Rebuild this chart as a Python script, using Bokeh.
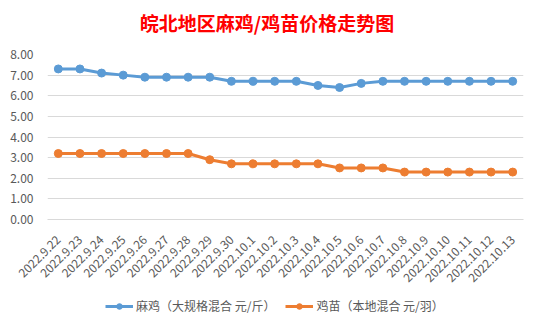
from bokeh.plotting import figure
from bokeh.models import (FactorRange, Range1d, FixedTicker, NumeralTickFormatter,
                          Legend, LegendItem, Div)
from bokeh.layouts import column
from bokeh.embed import file_html
from bokeh.resources import INLINE
import math

dates = ["2022.9.22", "2022.9.23", "2022.9.24", "2022.9.25", "2022.9.26", "2022.9.27",
         "2022.9.28", "2022.9.29", "2022.9.30", "2022.10.1", "2022.10.2", "2022.10.3",
         "2022.10.4", "2022.10.5", "2022.10.6", "2022.10.7", "2022.10.8", "2022.10.9",
         "2022.10.10", "2022.10.11", "2022.10.12", "2022.10.13"]
maji = [7.3, 7.3, 7.1, 7.0, 6.9, 6.9, 6.9, 6.9, 6.7, 6.7, 6.7, 6.7, 6.5, 6.4, 6.6,
        6.7, 6.7, 6.7, 6.7, 6.7, 6.7, 6.7]
jimiao = [3.2, 3.2, 3.2, 3.2, 3.2, 3.2, 3.2, 2.9, 2.7, 2.7, 2.7, 2.7, 2.7, 2.5, 2.5,
          2.5, 2.3, 2.3, 2.3, 2.3, 2.3, 2.3]
y_ticks = [0, 1, 2, 3, 4, 5, 6, 7, 8]
title_text = "皖北地区麻鸡/鸡苗价格走势图"
name_maji = "麻鸡（大规格混合 元/斤）"
name_jimiao = "鸡苗（本地混合 元/羽）"

FONT = "Noto Sans CJK SC"
GRAY = "#595959"
BLUE = "#5B9BD5"
ORANGE = "#ED7D31"

title_div = Div(text=title_text, width=542, height=44, margin=0,
                styles={"font-family": FONT, "font-size": "19px", "font-weight": "bold",
                        "color": "#FF0000", "text-align": "center", "line-height": "46px",
                        "background-color": "white", "width": "538px",
                        "padding-right": "4px"})

p = figure(width=542, height=245, x_range=FactorRange(*dates), y_range=Range1d(0, 8),
           output_backend="svg", toolbar_location=None,
           min_border_left=47, min_border_right=19, min_border_top=10, min_border_bottom=70)
p.title = None
p.outline_line_color = None
p.background_fill_color = "white"
p.border_fill_color = "white"

p.xgrid.grid_line_color = None
p.ygrid.grid_line_color = "#D9D9D9"
p.ygrid.grid_line_width = 1

p.yaxis.ticker = FixedTicker(ticks=y_ticks)
p.yaxis.formatter = NumeralTickFormatter(format="0.00")
for ax in (p.xaxis, p.yaxis):
    ax.axis_line_color = None
    ax.major_tick_line_color = None
    ax.minor_tick_line_color = None
    ax.major_label_text_color = GRAY
    ax.major_label_text_font = FONT
    ax.major_label_text_font_size = "12px"
p.yaxis.major_label_standoff = 8
p.xaxis.major_label_orientation = math.pi / 4
p.xaxis.major_label_standoff = 12
p.xaxis.axis_line_color = "#D9D9D9"

p.line(dates, maji, line_color=BLUE, line_width=3)
p.scatter(dates, maji, size=8, fill_color=BLUE, line_color=BLUE)
p.line(dates, jimiao, line_color=ORANGE, line_width=3)
p.scatter(dates, jimiao, size=8, fill_color=ORANGE, line_color=ORANGE)

# legend strip below the chart (series drawn out of view, only the legend shows)
q = figure(width=542, height=30, output_backend="svg", toolbar_location=None,
           x_range=FactorRange(*dates), y_range=Range1d(100, 101),
           min_border_left=0, min_border_right=0, min_border_top=0, min_border_bottom=0)
q.axis.visible = False
q.grid.visible = False
q.outline_line_color = None
q.border_fill_color = "white"
ql1 = q.line(dates, maji, line_color=BLUE, line_width=3)
qs1 = q.scatter(dates, maji, size=8, fill_color=BLUE, line_color=BLUE)
ql2 = q.line(dates, jimiao, line_color=ORANGE, line_width=3)
qs2 = q.scatter(dates, jimiao, size=8, fill_color=ORANGE, line_color=ORANGE)
legend = Legend(items=[LegendItem(label=name_maji, renderers=[ql1, qs1]),
                       LegendItem(label=name_jimiao, renderers=[ql2, qs2])],
                orientation="horizontal", location=(58, 5),
                label_text_font=FONT, label_text_font_size="12px", label_text_color=GRAY,
                glyph_width=28, glyph_height=14, label_standoff=3, spacing=10,
                border_line_color=None, background_fill_alpha=0, padding=2, margin=0)
q.add_layout(legend, "center")

layout = column(title_div, p, q, spacing=0)
open("out.html", "w").write(file_html(layout, INLINE))
